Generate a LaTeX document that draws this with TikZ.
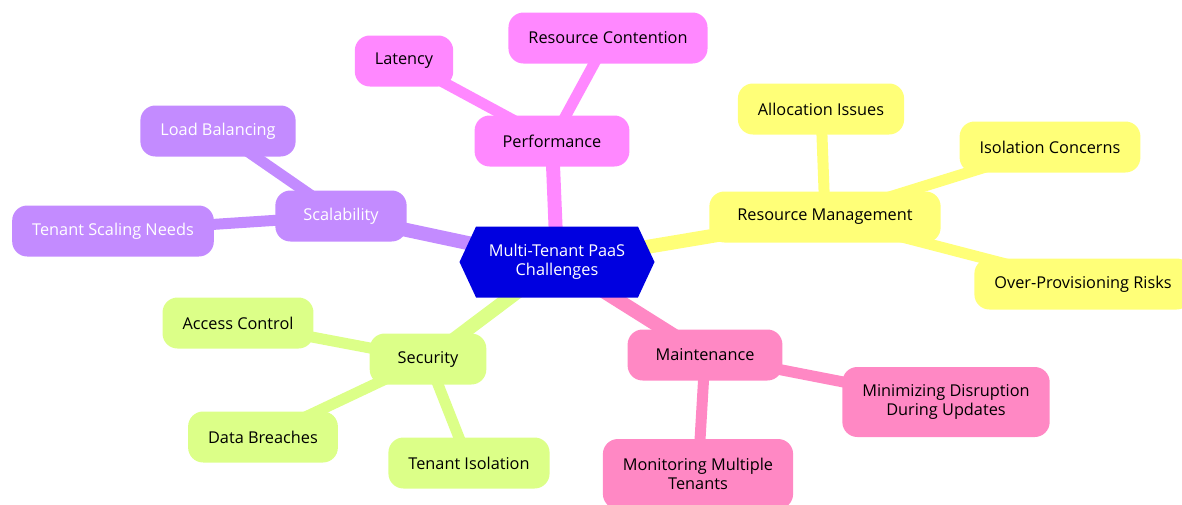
\documentclass[tikz,border=0pt]{standalone}
\usepackage{fontspec}
\setmainfont{Open Sans}
\usetikzlibrary{shapes.symbols,backgrounds}
\definecolor{rootblue}{HTML}{0000E0}
\definecolor{perfpink}{HTML}{FF88FF}
\definecolor{resyellow}{HTML}{FFFF78}
\definecolor{scalepurple}{HTML}{C38BFF}
\definecolor{secgreen}{HTML}{DCFF88}
\definecolor{maintpink}{HTML}{FF88C4}
\tikzset{
  topic/.style={rounded corners=15pt, minimum height=51pt, inner xsep=28pt, align=center},
  leaf/.style={rounded corners=15pt, minimum height=51pt, inner xsep=20pt, align=center},
  branch/.style={line width=14pt},
  twig/.style={line width=11pt},
}

\begin{document}
\begin{tikzpicture}[x=1pt,y=-1pt,font=\fontsize{16.3}{19}\selectfont]
        \useasboundingbox (0,0) rectangle (1182,504);
        % centre
        \node[signal, signal to=west and east, signal pointer angle=130, fill=rootblue,
              text=white, minimum width=195pt, minimum height=71pt, align=center]
              (root) at (557,262) {Multi-Tenant PaaS\\Challenges};
        % performance
        \node[topic, fill=perfpink] (perf) at (552,141) {Performance};
        \node[leaf, fill=perfpink] (lat) at (404,61) {Latency};
        \node[leaf, fill=perfpink] (cont) at (608,38) {Resource Contention};
        % resources
        \node[topic, fill=resyellow] (res) at (825,217) {Resource Management};
        \node[leaf, fill=resyellow] (alloc) at (821,109) {Allocation Issues};
        \node[leaf, fill=resyellow] (iso) at (1050,147) {Isolation Concerns};
        \node[leaf, fill=resyellow] (over) at (1083,284) {Over-Provisioning Risks};
        % scalability
        \node[topic, fill=scalepurple, text=white] (scal) at (341,216) {Scalability};
        \node[leaf, fill=scalepurple, text=white] (load) at (218,131) {Load Balancing};
        \node[leaf, fill=scalepurple, text=white] (tsn) at (113,231) {Tenant Scaling Needs};
        % security
        \node[topic, fill=secgreen] (sec) at (428,359) {Security};
        \node[leaf, fill=secgreen] (acc) at (238,323) {Access Control};
        \node[leaf, fill=secgreen] (breach) at (263,437) {Data Breaches};
        \node[leaf, fill=secgreen] (tiso) at (469,463) {Tenant Isolation};
        % maintenance
        \node[topic, fill=maintpink] (maint) at (705,355) {Maintenance};
        \node[leaf, fill=maintpink, minimum height=70pt] (disr) at (946,402) {Minimizing Disruption\\During Updates};
        \node[leaf, fill=maintpink, minimum height=70pt] (mon) at (698,474) {Monitoring Multiple\\Tenants};

        \begin{scope}[on background layer]
        \draw[branch, perfpink] (root.center) -- (perf.center);
        \draw[twig, perfpink] (perf.center) -- (lat.center);
        \draw[twig, perfpink] (perf.center) -- (cont.center);
        \draw[branch, resyellow] (root.center) -- (res.center);
        \draw[twig, resyellow] (res.center) -- (alloc.center);
        \draw[twig, resyellow] (res.center) -- (iso.center);
        \draw[twig, resyellow] (res.center) -- (over.center);
        \draw[branch, scalepurple] (root.center) -- (scal.center);
        \draw[twig, scalepurple] (scal.center) -- (load.center);
        \draw[twig, scalepurple] (scal.center) -- (tsn.center);
        \draw[branch, secgreen] (root.center) -- (sec.center);
        \draw[twig, secgreen] (sec.center) -- (acc.center);
        \draw[twig, secgreen] (sec.center) -- (breach.center);
        \draw[twig, secgreen] (sec.center) -- (tiso.center);
        \draw[branch, maintpink] (root.center) -- (maint.center);
        \draw[twig, maintpink] (maint.center) -- (disr.center);
        \draw[twig, maintpink] (maint.center) -- (mon.center);
        \end{scope}
      \end{tikzpicture}
\end{document}
